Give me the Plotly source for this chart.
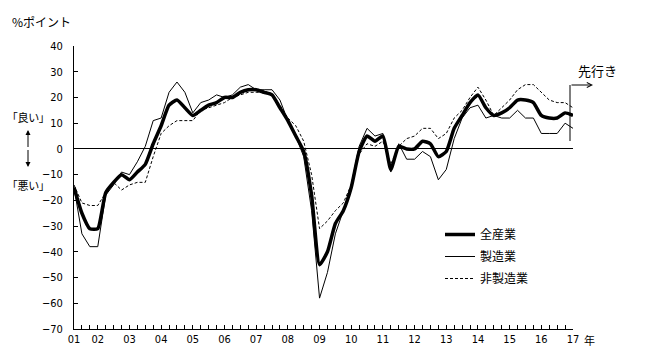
import plotly.graph_objects as go

# Quarterly index 0 = 2001 Jun survey ... 63 = 2017 Mar (forecast)
quarters = list(range(64))
tick_positions = [0, 3, 7, 11, 15, 19, 23, 27, 31, 35, 39, 43, 47, 51, 55, 59, 63]
tick_labels = ["01", "02", "03", "04", "05", "06", "07", "08", "09", "10",
               "11", "12", "13", "14", "15", "16", "17"]

all_industries = [-15, -25, -31, -31, -17, -13, -10, -12, -9, -6,
                  2, 9, 17, 19, 16, 13, 15, 17, 18, 20,
                  20, 22, 23, 23, 22, 21, 16, 11, 5, -1,
                  -18, -45, -40, -29, -24, -15, -1, 5, 3, 5,
                  -8, 1, 0, 0, 3, 2, -3, -1, 8, 13,
                  18, 21, 16, 13, 14, 16, 19, 19, 18, 13,
                  12, 12, 14, 13]
manufacturing = [-15, -33, -38, -38, -18, -14, -9, -10, -5, 1,
                 11, 12, 22, 26, 22, 14, 18, 19, 21, 20,
                 21, 24, 25, 23, 23, 23, 19, 11, 5, -3,
                 -24, -58, -48, -33, -24, -14, 1, 8, 5, 6,
                 -9, 2, -4, -4, -1, -3, -12, -8, 4, 12,
                 16, 17, 12, 13, 12, 12, 15, 12, 12, 6,
                 6, 6, 10, 8]
non_manufacturing = [-14, -21, -22, -22, -17, -13, -16, -14, -13, -13,
                     -3, 6, 9, 11, 11, 11, 15, 16, 17, 18,
                     20, 21, 22, 22, 22, 21, 17, 12, 9, 3,
                     -10, -31, -28, -24, -21, -14, -2, 2, 1, 3,
                     -6, 1, 4, 5, 8, 8, 4, 6, 12, 15,
                     20, 24, 19, 13, 16, 19, 23, 25, 25, 22,
                     19, 18, 18, 16]

series_names = ["全産業", "製造業", "非製造業"]

JP = "Noto Sans CJK JP"
NUM = "Liberation Sans Narrow, Arial Narrow, DejaVu Sans Condensed, Noto Sans CJK JP"

# page has an 8px body margin; work in page pixels and convert
OFF = 8
L, R, T, B = 74, 573, 46, 329          # plot area in page pixels
W, H = 645 - OFF, 357 - OFF             # figure size


def px(x):
    return (x - L) / (R - L)


def py(y):
    return (B - y) / (B - T)


fig = go.Figure()
fig.add_trace(go.Scatter(x=quarters, y=all_industries, name=series_names[0],
                         mode="lines", legendgroup="a",
                         line=dict(color="black", width=3.5, shape="spline", smoothing=0.5)))
fig.add_trace(go.Scatter(x=quarters, y=manufacturing, name=series_names[1],
                         mode="lines", legendgroup="b",
                         line=dict(color="black", width=1)))
fig.add_trace(go.Scatter(x=quarters, y=non_manufacturing, name=series_names[2],
                         mode="lines", legendgroup="c",
                         line=dict(color="black", width=1, dash="3px,2px")))

fig.update_layout(
    width=W, height=H,
    margin=dict(l=L - OFF, r=W - (R - OFF), t=T - OFF, b=H - (B - OFF), pad=0, autoexpand=False),
    plot_bgcolor="white", paper_bgcolor="white",
    font=dict(family=JP, size=12, color="black"),
    showlegend=True,
    legend=dict(x=px(440), y=py(220), xanchor="left", yanchor="top",
                bgcolor="rgba(0,0,0,0)", borderwidth=0,
                tracegroupgap=3, font=dict(family=JP, size=12)),
    xaxis=dict(range=[0, 63], tickvals=tick_positions, ticktext=tick_labels,
               showgrid=False, zeroline=False, showline=True, linecolor="black",
               linewidth=1, ticks="inside", ticklen=4, tickcolor="black",
               tickfont=dict(family=NUM, size=11),
               minor=dict(dtick=1, tick0=0, ticks="inside", ticklen=4, tickcolor="black"),
               fixedrange=True),
    yaxis=dict(range=[-70, 40], dtick=10, tick0=0,
               showgrid=False, zeroline=True, zerolinecolor="black", zerolinewidth=1,
               showline=True, linecolor="black", linewidth=1,
               ticks="inside", ticklen=4, tickcolor="black",
               tickfont=dict(family=NUM, size=11), ticklabelstandoff=8,
               fixedrange=True),
)

PALT = "<span style=\"font-feature-settings:'palt'\">{}</span>"
annotations = [
    dict(text="%ポイント", x=px(41), y=py(21), xanchor="center", font=dict(size=12)),
    dict(text=PALT.format("「良い」"), x=px(10), y=py(117), xanchor="left", font=dict(size=11)),
    dict(text=PALT.format("「悪い」"), x=px(10), y=py(185), xanchor="left", font=dict(size=11)),
    dict(text="先行き", x=px(597), y=py(70), xanchor="center", font=dict(size=13)),
    dict(text="年", x=px(589), y=py(340), xanchor="center", font=dict(size=11)),
]
for a in annotations:
    fig.add_annotation(xref="paper", yref="paper", showarrow=False,
                       yanchor="middle", **a)

# double-headed arrow between 良い and 悪い
mid = (130 + 167) / 2
for head, off in [(130, mid - 130), (167, mid - 167)]:
    fig.add_annotation(xref="paper", yref="paper", x=px(28), y=py(head), text="",
                       showarrow=True, ax=0, ay=off, arrowhead=2, arrowsize=1,
                       arrowwidth=1, arrowcolor="black")

# forecast marker
fig.add_shape(type="line", xref="paper", yref="paper",
              x0=px(570), x1=px(570), y0=py(141), y1=py(85),
              line=dict(color="black", width=1))
fig.add_annotation(xref="paper", yref="paper", x=px(593), y=py(85), text="",
                   showarrow=True, ax=-23, ay=0, arrowhead=5, arrowsize=1,
                   arrowwidth=1, arrowcolor="black")

fig.write_html("out.html")
